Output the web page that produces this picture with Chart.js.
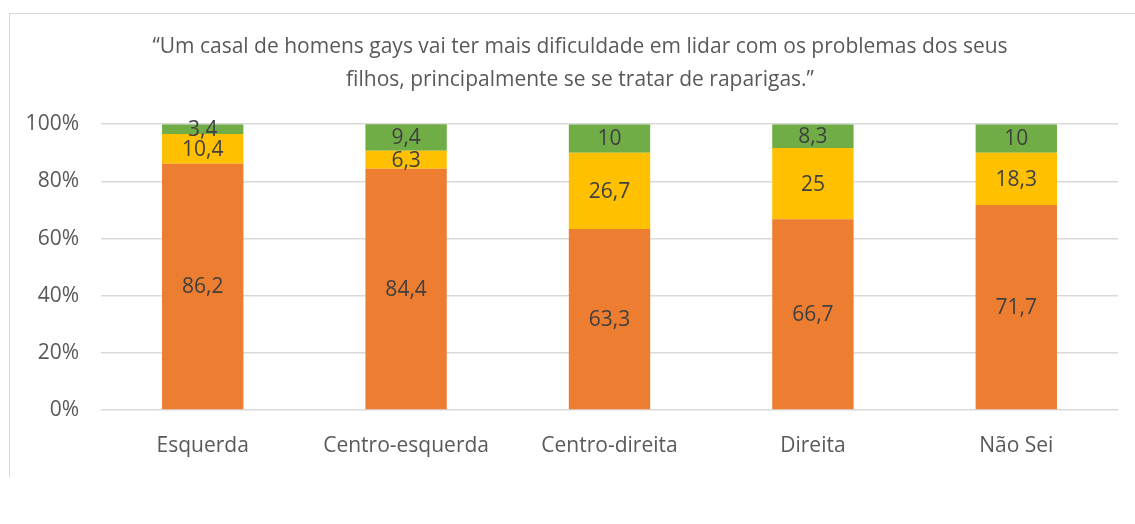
<!DOCTYPE html>
<html lang="pt">
<head>
    <meta charset="UTF-8">
    <title>Um casal de homens gays</title>
    <script src="https://cdn.jsdelivr.net/npm/chart.js"></script>
    <style>
        body {
            margin: 0;
            background: #fff;
            overflow: hidden;
        }
        .frame {
            position: absolute;
            left: 9px;
            top: 13px;
            width: 1140px;
            height: 463px;
            border-top: 1px solid #d9d9d9;
            border-left: 1px solid #d9d9d9;
        }
    </style>
</head>
<body>

<div class="frame">
    <canvas id="chart" width="1140" height="463"></canvas>
</div>

<script>
    const categories = ['Esquerda', 'Centro-esquerda', 'Centro-direita', 'Direita', 'Não Sei'];
    const orangeValues = [86.2, 84.4, 63.3, 66.7, 71.7];
    const yellowValues = [10.4, 6.3, 26.7, 25, 18.3];
    const greenValues = [3.4, 9.4, 10, 8.3, 10];
    const yTicks = [0, 20, 40, 60, 80, 100];

    const fontFamily = '"Open Sans", Lato, sans-serif';

    // draws the value in the middle of each segment, with decimal comma
    const segmentLabels = {
        id: 'segmentLabels',
        afterDatasetsDraw(chart) {
            const ctx = chart.ctx;
            ctx.save();
            ctx.font = '21px ' + fontFamily;
            ctx.fillStyle = '#404040';
            ctx.textAlign = 'center';
            ctx.textBaseline = 'middle';
            chart.data.datasets.forEach((ds, i) => {
                chart.getDatasetMeta(i).data.forEach((bar, j) => {
                    const y = (bar.y + bar.base) / 2;
                    ctx.fillText(String(ds.data[j]).replace('.', ','), bar.x, y + 1);
                });
            });
            ctx.restore();
        }
    };

    new Chart(document.getElementById('chart'), {
        type: 'bar',
        data: {
            labels: categories,
            datasets: [
                { data: orangeValues, backgroundColor: '#ED7D31' },
                { data: yellowValues, backgroundColor: '#FFC000' },
                { data: greenValues, backgroundColor: '#70AD47' }
            ]
        },
        options: {
            responsive: false,
            animation: false,
            categoryPercentage: 1,
            barPercentage: 0.4,
            plugins: {
                legend: { display: false },
                tooltip: { enabled: false },
                title: {
                    display: true,
                    text: ['“Um casal de homens gays vai ter mais dificuldade em lidar com os problemas dos seus',
                           'filhos, principalmente se se tratar de raparigas.”'],
                    color: '#595959',
                    font: { family: fontFamily, size: 21, weight: 'normal', lineHeight: 1.6 },
                    padding: { top: 16, bottom: 27 }
                }
            },
            scales: {
                x: {
                    stacked: true,
                    grid: { display: false, drawTicks: false },
                    border: { display: false },
                    ticks: { color: '#595959', font: { family: fontFamily, size: 21 }, padding: 23 },
                    afterFit: s => { s.height = 67; }
                },
                y: {
                    stacked: true,
                    min: 0,
                    max: 100,
                    afterBuildTicks: s => { s.ticks = yTicks.map(v => ({ value: v })); },
                    grid: { color: '#d9d9d9', lineWidth: 1.5, drawTicks: false },
                    border: { display: false },
                    ticks: {
                        color: '#595959',
                        font: { family: fontFamily, size: 21 },
                        padding: 22,
                        callback: v => v + '%'
                    },
                    afterFit: s => { s.width = 91; }
                },
                // empty right axis, only keeps the plot off the right edge
                yRight: {
                    position: 'right',
                    min: 0,
                    max: 100,
                    grid: { display: false, drawTicks: false },
                    border: { display: false },
                    ticks: { display: false },
                    afterFit: s => { s.width = 32; }
                }
            }
        },
        plugins: [segmentLabels]
    });
</script>

</body>
</html>
